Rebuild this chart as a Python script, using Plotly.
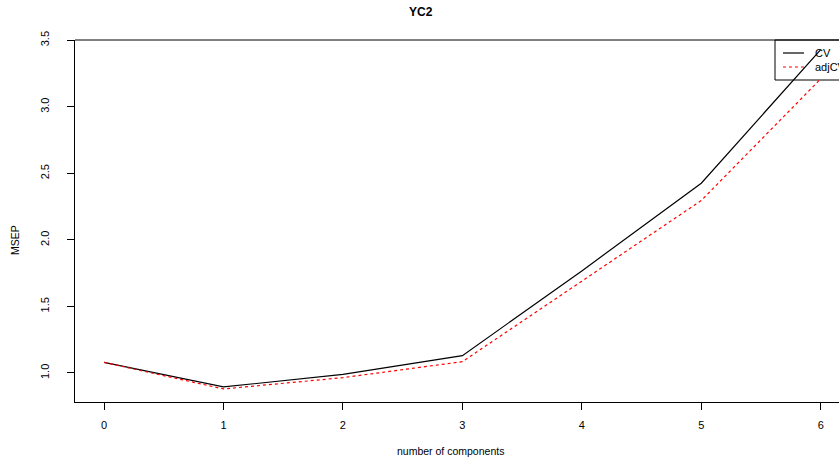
import plotly.graph_objects as go

components = [0, 1, 2, 3, 4, 5, 6]
cv = [1.08, 0.895, 0.99, 1.13, 1.767, 2.426, 3.43]
adjcv = [1.08, 0.88, 0.965, 1.085, 1.69, 2.296, 3.21]
x_ticks = [0, 1, 2, 3, 4, 5, 6]
y_ticks = [1.0, 1.5, 2.0, 2.5, 3.0, 3.5]
y_tick_text = ["1.0", "1.5", "2.0", "2.5", "3.0", "3.5"]

W, H = 839, 461
L, R, T, B = 75, 0, 40, 59
pw = W - L - R
ph = H - T - B

def px(xp):
    return (xp - L) / pw

def py(yp):
    return (H - B - yp) / ph

FONT = "Liberation Sans, Arial, Helvetica, sans-serif"

fig = go.Figure()
fig.add_trace(go.Scatter(x=components, y=cv, mode="lines", name="CV",
                         line=dict(color="black", width=1.2), showlegend=False))
fig.add_trace(go.Scatter(x=components, y=adjcv, mode="lines", name="adjCV",
                         line=dict(color="red", width=1.2, dash="3px,3px"), showlegend=False))

shapes = [
    # top border of box
    dict(type="line", xref="paper", yref="paper", x0=0, x1=1.05, y0=1, y1=1,
         line=dict(color="black", width=1)),
    # legend box
    dict(type="rect", xref="paper", yref="paper", x0=px(775), x1=px(860),
         y0=py(80), y1=py(40), line=dict(color="black", width=1),
         fillcolor="white", layer="below"),
    dict(type="line", xref="paper", yref="paper", x0=px(783), x1=px(804),
         y0=py(53), y1=py(53), line=dict(color="black", width=1.2)),
    dict(type="line", xref="paper", yref="paper", x0=px(783), x1=px(804),
         y0=py(67), y1=py(67), line=dict(color="red", width=1.2, dash="3px,3px")),
]

annotations = [
    dict(text="<b>YC2</b>", xref="paper", yref="paper", x=px(421), y=py(12),
         showarrow=False, font=dict(family=FONT, size=12, color="black"),
         xanchor="center", yanchor="middle"),
    dict(text="number of components", xref="paper", yref="paper", x=px(450), y=py(451),
         showarrow=False, font=dict(family=FONT, size=10.5, color="black"),
         xanchor="center", yanchor="middle"),
    dict(text="MSEP", xref="paper", yref="paper", x=px(15), y=py(240),
         showarrow=False, textangle=-90, font=dict(family=FONT, size=10.5, color="black"),
         xanchor="center", yanchor="middle"),
    dict(text="CV", xref="paper", yref="paper", x=px(813), y=py(53),
         showarrow=False, font=dict(family=FONT, size=11, color="black"),
         xanchor="left", yanchor="middle"),
    dict(text="adjCV", xref="paper", yref="paper", x=px(813), y=py(67),
         showarrow=False, font=dict(family=FONT, size=11, color="black"),
         xanchor="left", yanchor="middle"),
]

fig.update_layout(
    width=W, height=H,
    margin=dict(l=L, r=R, t=T, b=B, pad=0),
    paper_bgcolor="white", plot_bgcolor="white",
    font=dict(family=FONT, size=11, color="black"),
    showlegend=False,
    shapes=shapes, annotations=annotations,
    xaxis=dict(range=[-0.243, 6.153], tickmode="array", tickvals=x_ticks,
               showgrid=False, zeroline=False, showline=True, linecolor="black",
               linewidth=1, ticks="outside", ticklen=7, tickcolor="black",
               tickfont=dict(size=11), ticklabelstandoff=6),
    yaxis=dict(range=[0.782, 3.502], tickmode="array", tickvals=y_ticks,
               ticktext=y_tick_text, tickangle=-90,
               showgrid=False, zeroline=False, showline=True, linecolor="black",
               linewidth=1, ticks="outside", ticklen=7, tickcolor="black",
               tickfont=dict(size=11), ticklabelstandoff=14),
)

fig.write_html("out.html")
